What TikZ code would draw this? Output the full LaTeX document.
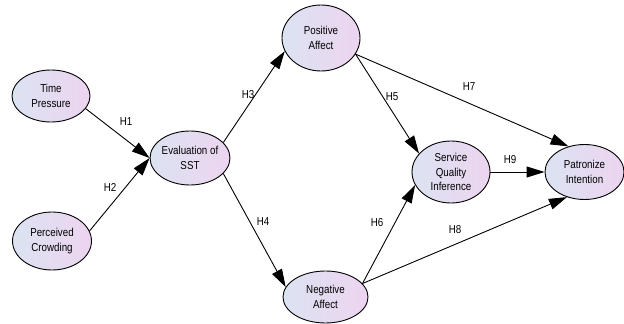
\documentclass[tikz,border=0pt]{standalone}
\usepackage{fontspec}
\setmainfont{Liberation Sans}[FakeStretch=0.85]
\usetikzlibrary{shapes.geometric,arrows.meta}
\definecolor{fillL}{RGB}{220,227,241}
\definecolor{fillR}{RGB}{237,212,240}
\tikzset{
  construct/.style={ellipse, draw=black, line width=0.9pt, left color=fillL, right color=fillR,
    inner sep=0pt, align=center, font=\fontsize{11.5}{14.5}\selectfont},
  path/.style={draw=black, line width=0.9pt, -{Triangle[length=18pt,width=11pt]}},
  hlab/.style={font=\fontsize{11.5}{13}\selectfont, inner sep=0pt}
}
\begin{document}
\begin{tikzpicture}[x=1pt,y=-1pt]
\useasboundingbox (0,0) rectangle (624,324);
\node[construct, minimum width=78pt, minimum height=52pt] (tp) at (51,96) {Time\\Pressure};
\node[construct, minimum width=79pt, minimum height=58pt] (pc) at (52,241) {Perceived\\Crowding};
\node[construct, minimum width=76pt, minimum height=54pt] (ev) at (190,158) {Evaluation of\\SST};
\node[construct, minimum width=78pt, minimum height=66pt] (pa) at (321,38) {Positive\\Affect};
\node[construct, minimum width=85pt, minimum height=52pt] (na) at (325.5,297) {Negative\\Affect};
\node[construct, minimum width=78pt, minimum height=62pt] (sq) at (451,172) {Service\\Quality\\Inference};
\node[construct, minimum width=79pt, minimum height=55pt] (pi) at (584.5,172) {Patronize\\Intention};

\draw[path] (tp.-20) -- (ev.west);
\draw[path] (pc.15) -- (ev.west);
\draw[path] (ev.25) -- (pa.200);
\draw[path] (ev.-25) -- (na.166);
\draw[path] (pa.-25) -- (sq.150);
\draw[path] (pa.-25) -- (pi.122);
\draw[path] (na.20) -- (sq.200);
\draw[path] (na.20) -- (pi.235);
\draw[path] (sq.east) -- (pi.west);

\node[hlab] (h1) at (126,122) {H1};
\node[hlab] (h2) at (110,187) {H2};
\node[hlab] (h3) at (248,95) {H3};
\node[hlab] (h4) at (263,222) {H4};
\node[hlab] (h5) at (392,97) {H5};
\node[hlab] (h6) at (377,223) {H6};
\node[hlab] (h7) at (469,87) {H7};
\node[hlab] (h8) at (455,230) {H8};
\node[hlab] (h9) at (510,160) {H9};
\end{tikzpicture}
\end{document}
